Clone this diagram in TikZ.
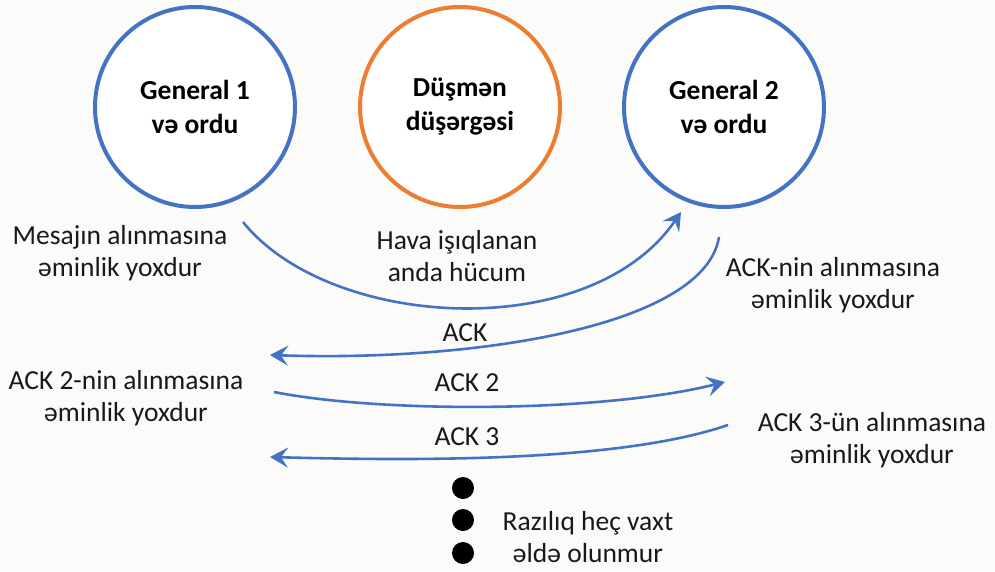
\documentclass[tikz,border=0pt]{standalone}
\usepackage{fontspec}
\setmainfont{Carlito}
\usetikzlibrary{arrows.meta}
\definecolor{bg}{HTML}{FBFCF9}
\definecolor{gblue}{HTML}{4472C4}
\definecolor{gorange}{HTML}{ED7D31}
\tikzset{
  camp/.style={circle, draw, line width=4pt, fill=white, minimum size=200pt,
    inner sep=0pt, align=center, font=\fontsize{27.5}{34}\selectfont\bfseries},
  note/.style={align=center, inner sep=0pt, text=black!90,
    font=\fontsize{27.5}{31.5}\selectfont},
  msg/.style={draw=gblue, line width=2.6pt,
    -{Stealth[length=18pt, width=20pt, inset=7pt]}},
  dot/.style={circle, fill=black, minimum size=22pt, inner sep=0pt}
}
\begin{document}
\begin{tikzpicture}[x=1pt, y=-1pt]
  \fill[bg] (0,0) rectangle (995,571);
  \useasboundingbox (0,0) rectangle (995,571);

  % the three camps
  \node[camp, draw=gblue] (g1) at (195,107) {General 1\\və ordu};
  \node[camp, draw=gorange] (enemy) at (460,107) {Düşmən\\düşərgəsi};
  \node[camp, draw=gblue] (g2) at (724,107) {General 2\\və ordu};

  % end points of the messengers' routes
  \coordinate (m1a) at (243,222);
  \coordinate (m1b) at (681,212);
  \coordinate (m2a) at (719,237);
  \coordinate (m2b) at (270,355);
  \coordinate (m3a) at (274,392);
  \coordinate (m3b) at (725,382);
  \coordinate (m4a) at (728,425);
  \coordinate (m4b) at (270,457);

  \draw[msg] (m1a) .. controls (330,330) and (590,345) .. (m1b);
  \draw[msg] (m2a) .. controls (705,325) and (480,362) .. (m2b);
  \draw[msg] (m3a) .. controls (380,413) and (600,413) .. (m3b);
  \draw[msg] (m4a) .. controls (620,462) and (420,461) .. (m4b);

  % labels
  \node[note] (t1) at (120,253) {Mesajın alınmasına\\əminlik yoxdur};
  \node[note] (t2) at (457,256) {Hava işıqlanan\\anda hücum};
  \node[note] (t3) at (833,285) {ACK-nin alınmasına\\əminlik yoxdur};
  \node[note] (t4) at (465,333) {ACK};
  \node[note] (t5) at (126,398) {ACK 2-nin alınmasına\\əminlik yoxdur};
  \node[note] (t6) at (467,383) {ACK 2};
  \node[note] (t7) at (467,437) {ACK 3};
  \node[note] (t8) at (872,440) {ACK 3-ün alınmasına\\əminlik yoxdur};
  \node[note] (t9) at (588,537) {Razılıq heç vaxt\\əldə olunmur};

  % continuation dots
  \node[dot] (d1) at (463,488) {};
  \node[dot] (d2) at (463,520) {};
  \node[dot] (d3) at (463,553) {};
\end{tikzpicture}
\end{document}
